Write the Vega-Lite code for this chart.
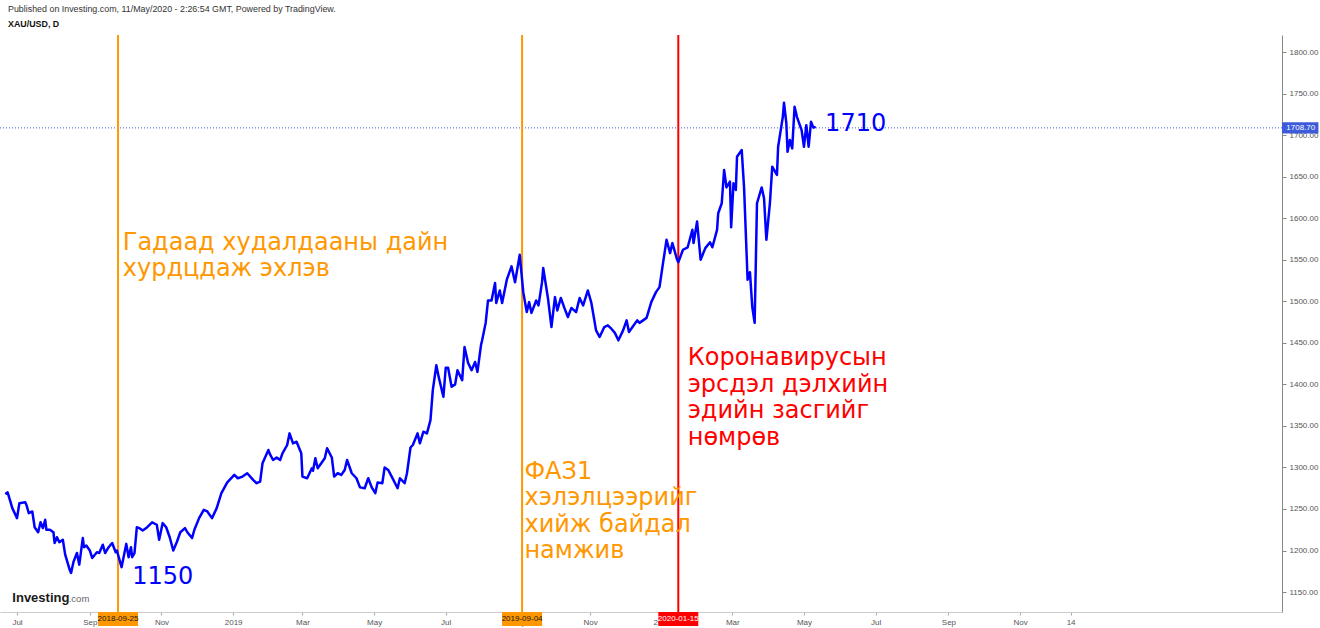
{
  "$schema": "https://vega.github.io/schema/vega-lite/v6.json",
  "width": 1282,
  "height": 577,
  "autosize": {"type": "none"},
  "padding": {"left": 0, "top": 35, "right": 38, "bottom": 16},
  "background": "white",
  "config": {"view": {"stroke": null}, "font": "Liberation Sans"},
  "title": {
    "text": "Published on Investing.com, 11/May/2020 - 2:26:54 GMT, Powered by TradingView.",
    "subtitle": "XAU/USD, D",
    "anchor": "start",
    "frame": "group",
    "dx": 8,
    "offset": 5,
    "font": "Liberation Sans",
    "fontSize": 8.9,
    "fontWeight": "normal",
    "color": "#333333",
    "subtitleFont": "Liberation Sans",
    "subtitleFontSize": 8.9,
    "subtitleFontWeight": "bold",
    "subtitleColor": "#111111",
    "subtitlePadding": 6
  },
  "datasets": {
    "gold": [
      {"date": "2018-06-21", "price": 1268}, {"date": "2018-06-23", "price": 1270}, {"date": "2018-06-27", "price": 1251},
      {"date": "2018-07-01", "price": 1239}, {"date": "2018-07-03", "price": 1257}, {"date": "2018-07-08", "price": 1258},
      {"date": "2018-07-09", "price": 1255}, {"date": "2018-07-11", "price": 1245}, {"date": "2018-07-14", "price": 1247},
      {"date": "2018-07-16", "price": 1228}, {"date": "2018-07-19", "price": 1222}, {"date": "2018-07-21", "price": 1234},
      {"date": "2018-07-23", "price": 1227}, {"date": "2018-07-25", "price": 1237}, {"date": "2018-07-26", "price": 1225},
      {"date": "2018-07-29", "price": 1225}, {"date": "2018-08-01", "price": 1222}, {"date": "2018-08-02", "price": 1209},
      {"date": "2018-08-04", "price": 1216}, {"date": "2018-08-06", "price": 1210}, {"date": "2018-08-09", "price": 1213},
      {"date": "2018-08-11", "price": 1195}, {"date": "2018-08-15", "price": 1176}, {"date": "2018-08-16", "price": 1173},
      {"date": "2018-08-18", "price": 1186}, {"date": "2018-08-21", "price": 1197}, {"date": "2018-08-23", "price": 1183},
      {"date": "2018-08-26", "price": 1215}, {"date": "2018-08-27", "price": 1204}, {"date": "2018-08-29", "price": 1206},
      {"date": "2018-09-01", "price": 1200}, {"date": "2018-09-03", "price": 1191}, {"date": "2018-09-07", "price": 1198},
      {"date": "2018-09-09", "price": 1197}, {"date": "2018-09-12", "price": 1207}, {"date": "2018-09-14", "price": 1197},
      {"date": "2018-09-17", "price": 1204}, {"date": "2018-09-20", "price": 1209}, {"date": "2018-09-23", "price": 1198},
      {"date": "2018-09-24", "price": 1200}, {"date": "2018-09-28", "price": 1180}, {"date": "2018-10-02", "price": 1208},
      {"date": "2018-10-04", "price": 1192}, {"date": "2018-10-06", "price": 1204}, {"date": "2018-10-07", "price": 1192},
      {"date": "2018-10-09", "price": 1197}, {"date": "2018-10-11", "price": 1228}, {"date": "2018-10-13", "price": 1227},
      {"date": "2018-10-16", "price": 1224}, {"date": "2018-10-19", "price": 1227}, {"date": "2018-10-24", "price": 1234},
      {"date": "2018-10-28", "price": 1231}, {"date": "2018-10-30", "price": 1213}, {"date": "2018-11-02", "price": 1233},
      {"date": "2018-11-05", "price": 1228}, {"date": "2018-11-08", "price": 1216}, {"date": "2018-11-11", "price": 1200},
      {"date": "2018-11-14", "price": 1210}, {"date": "2018-11-17", "price": 1222}, {"date": "2018-11-21", "price": 1227},
      {"date": "2018-11-23", "price": 1222}, {"date": "2018-11-27", "price": 1215}, {"date": "2018-11-29", "price": 1225},
      {"date": "2018-12-03", "price": 1239}, {"date": "2018-12-07", "price": 1249}, {"date": "2018-12-10", "price": 1247},
      {"date": "2018-12-14", "price": 1239}, {"date": "2018-12-18", "price": 1251}, {"date": "2018-12-22", "price": 1269},
      {"date": "2018-12-27", "price": 1282}, {"date": "2019-01-02", "price": 1291}, {"date": "2019-01-05", "price": 1287},
      {"date": "2019-01-09", "price": 1289}, {"date": "2019-01-13", "price": 1293}, {"date": "2019-01-18", "price": 1285},
      {"date": "2019-01-21", "price": 1281}, {"date": "2019-01-24", "price": 1283}, {"date": "2019-01-26", "price": 1305},
      {"date": "2019-01-31", "price": 1321}, {"date": "2019-02-01", "price": 1317}, {"date": "2019-02-04", "price": 1309},
      {"date": "2019-02-07", "price": 1312}, {"date": "2019-02-10", "price": 1309}, {"date": "2019-02-12", "price": 1317},
      {"date": "2019-02-16", "price": 1327}, {"date": "2019-02-18", "price": 1341}, {"date": "2019-02-21", "price": 1329},
      {"date": "2019-02-24", "price": 1331}, {"date": "2019-02-28", "price": 1317}, {"date": "2019-03-01", "price": 1289},
      {"date": "2019-03-05", "price": 1287}, {"date": "2019-03-09", "price": 1299}, {"date": "2019-03-10", "price": 1296},
      {"date": "2019-03-12", "price": 1311}, {"date": "2019-03-14", "price": 1299}, {"date": "2019-03-17", "price": 1305},
      {"date": "2019-03-20", "price": 1311}, {"date": "2019-03-22", "price": 1323}, {"date": "2019-03-26", "price": 1312},
      {"date": "2019-03-28", "price": 1289}, {"date": "2019-03-31", "price": 1293}, {"date": "2019-04-03", "price": 1291},
      {"date": "2019-04-06", "price": 1297}, {"date": "2019-04-08", "price": 1309}, {"date": "2019-04-12", "price": 1293},
      {"date": "2019-04-16", "price": 1287}, {"date": "2019-04-19", "price": 1276}, {"date": "2019-04-23", "price": 1275},
      {"date": "2019-04-26", "price": 1287}, {"date": "2019-04-29", "price": 1276}, {"date": "2019-05-02", "price": 1269},
      {"date": "2019-05-04", "price": 1282}, {"date": "2019-05-08", "price": 1281}, {"date": "2019-05-10", "price": 1300},
      {"date": "2019-05-13", "price": 1297}, {"date": "2019-05-16", "price": 1289}, {"date": "2019-05-21", "price": 1275},
      {"date": "2019-05-23", "price": 1287}, {"date": "2019-05-27", "price": 1281}, {"date": "2019-05-29", "price": 1293},
      {"date": "2019-06-01", "price": 1324}, {"date": "2019-06-03", "price": 1327}, {"date": "2019-06-07", "price": 1341},
      {"date": "2019-06-09", "price": 1329}, {"date": "2019-06-12", "price": 1343}, {"date": "2019-06-15", "price": 1341},
      {"date": "2019-06-18", "price": 1357}, {"date": "2019-06-20", "price": 1393}, {"date": "2019-06-23", "price": 1423},
      {"date": "2019-06-25", "price": 1409}, {"date": "2019-06-29", "price": 1385}, {"date": "2019-07-01", "price": 1420},
      {"date": "2019-07-03", "price": 1420}, {"date": "2019-07-06", "price": 1397}, {"date": "2019-07-09", "price": 1400},
      {"date": "2019-07-11", "price": 1417}, {"date": "2019-07-15", "price": 1405}, {"date": "2019-07-17", "price": 1445},
      {"date": "2019-07-20", "price": 1426}, {"date": "2019-07-23", "price": 1417}, {"date": "2019-07-26", "price": 1427},
      {"date": "2019-07-28", "price": 1415}, {"date": "2019-07-31", "price": 1447}, {"date": "2019-08-01", "price": 1453},
      {"date": "2019-08-04", "price": 1474}, {"date": "2019-08-06", "price": 1501}, {"date": "2019-08-09", "price": 1501},
      {"date": "2019-08-12", "price": 1522}, {"date": "2019-08-13", "price": 1498}, {"date": "2019-08-16", "price": 1513},
      {"date": "2019-08-18", "price": 1498}, {"date": "2019-08-22", "price": 1526}, {"date": "2019-08-26", "price": 1542},
      {"date": "2019-08-29", "price": 1523}, {"date": "2019-09-02", "price": 1556}, {"date": "2019-09-05", "price": 1511},
      {"date": "2019-09-08", "price": 1487}, {"date": "2019-09-10", "price": 1499}, {"date": "2019-09-12", "price": 1486},
      {"date": "2019-09-16", "price": 1501}, {"date": "2019-09-18", "price": 1495}, {"date": "2019-09-21", "price": 1523},
      {"date": "2019-09-22", "price": 1540}, {"date": "2019-09-26", "price": 1504}, {"date": "2019-09-29", "price": 1469},
      {"date": "2019-10-02", "price": 1505}, {"date": "2019-10-04", "price": 1489}, {"date": "2019-10-07", "price": 1504},
      {"date": "2019-10-10", "price": 1492}, {"date": "2019-10-13", "price": 1481}, {"date": "2019-10-16", "price": 1492},
      {"date": "2019-10-20", "price": 1487}, {"date": "2019-10-23", "price": 1504}, {"date": "2019-10-26", "price": 1495},
      {"date": "2019-10-30", "price": 1513}, {"date": "2019-11-02", "price": 1498}, {"date": "2019-11-06", "price": 1465},
      {"date": "2019-11-09", "price": 1457}, {"date": "2019-11-13", "price": 1469}, {"date": "2019-11-16", "price": 1471},
      {"date": "2019-11-19", "price": 1467}, {"date": "2019-11-22", "price": 1462}, {"date": "2019-11-25", "price": 1453},
      {"date": "2019-11-29", "price": 1465}, {"date": "2019-12-02", "price": 1477}, {"date": "2019-12-04", "price": 1463},
      {"date": "2019-12-07", "price": 1469}, {"date": "2019-12-11", "price": 1477}, {"date": "2019-12-13", "price": 1474},
      {"date": "2019-12-19", "price": 1480}, {"date": "2019-12-23", "price": 1499}, {"date": "2019-12-27", "price": 1511},
      {"date": "2019-12-30", "price": 1517}, {"date": "2020-01-02", "price": 1546}, {"date": "2020-01-05", "price": 1574},
      {"date": "2020-01-08", "price": 1558}, {"date": "2020-01-10", "price": 1570}, {"date": "2020-01-14", "price": 1550},
      {"date": "2020-01-15", "price": 1547}, {"date": "2020-01-19", "price": 1562}, {"date": "2020-01-23", "price": 1565},
      {"date": "2020-01-27", "price": 1586}, {"date": "2020-01-28", "price": 1570}, {"date": "2020-01-31", "price": 1596},
      {"date": "2020-02-03", "price": 1550}, {"date": "2020-02-07", "price": 1564}, {"date": "2020-02-11", "price": 1571},
      {"date": "2020-02-13", "price": 1565}, {"date": "2020-02-17", "price": 1586}, {"date": "2020-02-18", "price": 1606},
      {"date": "2020-02-21", "price": 1618}, {"date": "2020-02-23", "price": 1658}, {"date": "2020-02-25", "price": 1637},
      {"date": "2020-02-28", "price": 1644}, {"date": "2020-02-29", "price": 1589}, {"date": "2020-03-02", "price": 1642},
      {"date": "2020-03-04", "price": 1634}, {"date": "2020-03-05", "price": 1674}, {"date": "2020-03-09", "price": 1682},
      {"date": "2020-03-11", "price": 1637}, {"date": "2020-03-14", "price": 1526}, {"date": "2020-03-16", "price": 1535},
      {"date": "2020-03-18", "price": 1493}, {"date": "2020-03-20", "price": 1474}, {"date": "2020-03-22", "price": 1618},
      {"date": "2020-03-26", "price": 1637}, {"date": "2020-03-28", "price": 1624}, {"date": "2020-03-30", "price": 1574},
      {"date": "2020-04-02", "price": 1618}, {"date": "2020-04-04", "price": 1662}, {"date": "2020-04-08", "price": 1652},
      {"date": "2020-04-09", "price": 1686}, {"date": "2020-04-13", "price": 1722}, {"date": "2020-04-14", "price": 1739},
      {"date": "2020-04-16", "price": 1714}, {"date": "2020-04-17", "price": 1680}, {"date": "2020-04-19", "price": 1694},
      {"date": "2020-04-21", "price": 1684}, {"date": "2020-04-23", "price": 1734}, {"date": "2020-04-25", "price": 1722},
      {"date": "2020-04-29", "price": 1706}, {"date": "2020-05-01", "price": 1686}, {"date": "2020-05-03", "price": 1712},
      {"date": "2020-05-05", "price": 1686}, {"date": "2020-05-07", "price": 1716}, {"date": "2020-05-09", "price": 1709},
      {"date": "2020-05-11", "price": 1710}
    ],
    "events": [
      {"date": "2018-09-25", "label": "2018-09-25", "kind": "trade"},
      {"date": "2019-09-04", "label": "2019-09-04", "kind": "phase"},
      {"date": "2020-01-15", "label": "2020-01-15", "kind": "covid"}
    ],
    "notes": [
      {"date": "2018-09-29", "price": 1585, "text": "Гадаад худалдааны дайн\nхурдцдаж эхлэв", "kind": "trade"},
      {"date": "2019-09-06", "price": 1309, "text": "ФАЗ1\nхэлэлцээрийг\nхийж байдал\nнамжив", "kind": "phase"},
      {"date": "2020-01-23", "price": 1446, "text": "Коронавирусын\nэрсдэл дэлхийн\nэдийн засгийг\nнөмрөв", "kind": "covid"},
      {"date": "2018-10-07", "price": 1183, "text": "1150", "kind": "level"},
      {"date": "2020-05-19", "price": 1728, "text": "1710", "kind": "level"}
    ]
  },
  "layer": [
    {
      "data": {"values": [{}]},
      "mark": {"type": "rule", "color": "#3d5bd9", "strokeWidth": 1, "strokeDash": [1, 2]},
      "encoding": {
        "y": {"datum": 1708.7, "type": "quantitative", "scale": {"domain": [1126, 1820.5], "nice": false, "zero": false, "padding": 0}, "title": null}
      }
    },
    {
      "data": {"name": "events"},
      "mark": {"type": "rule", "strokeWidth": 2},
      "encoding": {
        "x": {"field": "date", "type": "temporal", "title": null},
        "color": {"field": "kind", "type": "nominal", "legend": null,
          "scale": {"domain": ["trade", "phase", "covid", "level"], "range": ["#FF9800", "#FF9800", "#FF0000", "#0000FF"]}}
      }
    },
    {
      "data": {"name": "gold"},
      "mark": {"type": "line", "color": "#0000FF", "strokeWidth": 2.5, "strokeJoin": "round"},
      "encoding": {
        "x": {
          "field": "date", "type": "temporal", "title": null,
          "scale": {"type": "utc", "padding": 0, "domain": [
            {"year": 2018, "month": 6, "date": 16, "hours": 12, "utc": true},
            {"year": 2021, "month": 6, "date": 12, "utc": true}]},
          "axis": {
            "orient": "bottom",
            "values": [
              {"year": 2018, "month": 7, "date": 1, "utc": true},
              {"year": 2018, "month": 9, "date": 1, "utc": true},
              {"year": 2018, "month": 11, "date": 1, "utc": true},
              {"year": 2019, "month": 1, "date": 1, "utc": true},
              {"year": 2019, "month": 3, "date": 1, "utc": true},
              {"year": 2019, "month": 5, "date": 1, "utc": true},
              {"year": 2019, "month": 7, "date": 1, "utc": true},
              {"year": 2019, "month": 9, "date": 1, "utc": true},
              {"year": 2019, "month": 11, "date": 1, "utc": true},
              {"year": 2020, "month": 1, "date": 1, "utc": true},
              {"year": 2020, "month": 3, "date": 1, "utc": true},
              {"year": 2020, "month": 5, "date": 1, "utc": true},
              {"year": 2020, "month": 7, "date": 1, "utc": true},
              {"year": 2020, "month": 9, "date": 1, "utc": true},
              {"year": 2020, "month": 11, "date": 1, "utc": true},
              {"year": 2020, "month": 12, "date": 14, "utc": true}
            ],
            "labelExpr": "utcdate(datum.value) == 1 ? (utcmonth(datum.value) == 0 ? utcFormat(datum.value, '%Y') : utcFormat(datum.value, '%b')) : utcFormat(datum.value, '%-d')",
            "labelFontSize": 8,
            "labelColor": "#555555",
            "labelPadding": 3,
            "labelOverlap": false,
            "labelFlush": false,
            "tickSize": 3,
            "tickColor": "#aaaaaa",
            "domainColor": "#cccccc",
            "grid": false
          }
        },
        "y": {
          "field": "price", "type": "quantitative", "title": null,
          "scale": {"domain": [1126, 1820.5], "nice": false, "zero": false, "padding": 0},
          "axis": {
            "orient": "right",
            "values": [1150, 1175, 1200, 1225, 1250, 1275, 1300, 1325, 1350, 1375, 1400, 1425, 1450, 1475, 1500, 1525, 1550, 1575, 1600, 1625, 1650, 1675, 1700, 1725, 1750, 1775, 1800],
            "format": ".2f",
            "labelFontSize": 8,
            "labelColor": "#555555",
            "labelPadding": 3,
            "tickSize": 4,
            "tickColor": "#888888",
            "domainColor": "#888888",
            "grid": false
          }
        }
      }
    },
    {
      "data": {"name": "events"},
      "mark": {"type": "bar", "width": 40},
      "encoding": {
        "x": {"field": "date", "type": "temporal", "title": null},
        "y": {"datum": 1126, "type": "quantitative"},
        "y2": {"datum": 1109},
        "color": {"field": "kind", "type": "nominal", "legend": null}
      }
    },
    {
      "data": {"name": "events"},
      "mark": {"type": "text", "fontSize": 8, "align": "center", "baseline": "middle", "font": "Liberation Sans"},
      "encoding": {
        "x": {"field": "date", "type": "temporal", "title": null},
        "y": {"datum": 1117.5, "type": "quantitative"},
        "text": {"field": "label"},
        "color": {"condition": {"test": "datum.kind === 'covid'", "value": "#ffffff"}, "value": "#131722"}
      }
    },
    {
      "data": {"name": "notes"},
      "mark": {"type": "text", "font": "DejaVu Sans", "fontSize": 24, "align": "left", "baseline": "top", "lineBreak": "\n", "lineHeight": 26.5},
      "encoding": {
        "x": {"field": "date", "type": "temporal", "title": null},
        "y": {"field": "price", "type": "quantitative", "title": null},
        "text": {"field": "text"},
        "color": {"field": "kind", "type": "nominal", "legend": null}
      }
    },
    {
      "data": {"values": [{}]},
      "mark": {"type": "rect", "color": "#3d5bd9"},
      "encoding": {
        "x": {"datum": {"year": 2021, "month": 6, "date": 12, "utc": true}, "type": "temporal"},
        "x2": {"datum": {"year": 2021, "month": 7, "date": 13, "utc": true}},
        "y": {"datum": 1715.5, "type": "quantitative"},
        "y2": {"datum": 1701.9}
      }
    },
    {
      "data": {"values": [{"tag": "1708.70"}]},
      "mark": {"type": "text", "color": "#ffffff", "fontSize": 8, "align": "center", "baseline": "middle", "font": "Liberation Sans"},
      "encoding": {
        "x": {"datum": {"year": 2021, "month": 6, "date": 28, "utc": true}, "type": "temporal"},
        "y": {"datum": 1708.7, "type": "quantitative"},
        "text": {"field": "tag"}
      }
    },
    {
      "data": {"values": [{"brand": "Investing"}]},
      "mark": {"type": "text", "color": "#1a1a1a", "fontSize": 13, "fontWeight": "bold", "align": "left", "baseline": "alphabetic", "font": "Liberation Sans", "letterSpacing": -0.5},
      "encoding": {
        "x": {"datum": {"year": 2018, "month": 6, "date": 27, "utc": true}, "type": "temporal"},
        "y": {"datum": 1138, "type": "quantitative"},
        "text": {"field": "brand"}
      }
    },
    {
      "data": {"values": [{"brand": ".com"}]},
      "mark": {"type": "text", "color": "#666666", "fontSize": 9.5, "align": "left", "baseline": "alphabetic", "font": "Liberation Sans"},
      "encoding": {
        "x": {"datum": {"year": 2018, "month": 8, "date": 14, "utc": true}, "type": "temporal"},
        "y": {"datum": 1138, "type": "quantitative"},
        "text": {"field": "brand"}
      }
    }
  ]
}
